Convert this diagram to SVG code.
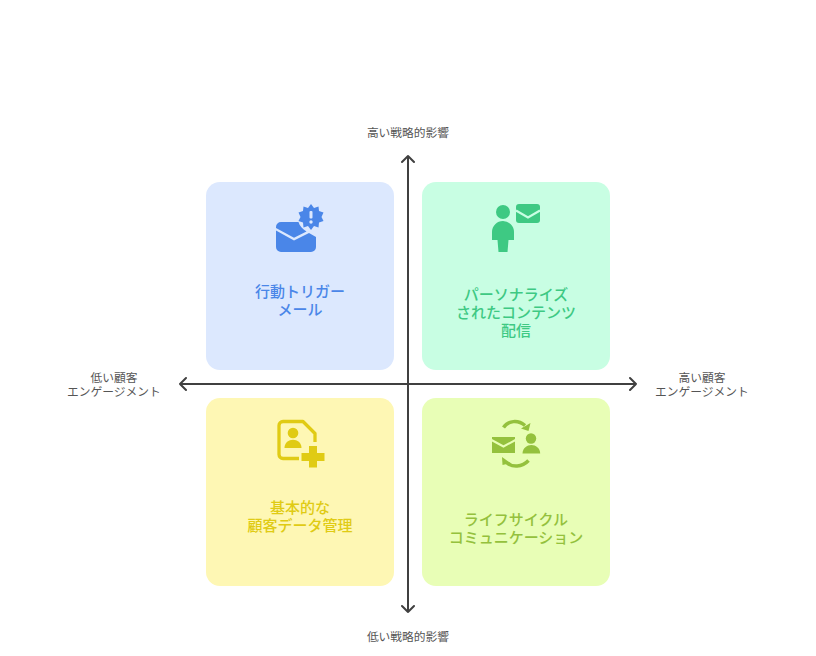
<svg xmlns="http://www.w3.org/2000/svg" width="816" height="656" viewBox="0 0 816 656">
<style>
text{font-family:"Noto Sans CJK JP","Noto Sans",sans-serif;text-anchor:middle}
.ax{font-size:11.75px;fill:#555}
.lb{font-size:15px;font-weight:500}
.axis{fill:none;stroke:#404040;stroke-width:2;stroke-linecap:round;stroke-linejoin:round}
</style>
<rect width="816" height="656" fill="#fff"/>
<g id="node-tl">
<rect x="206" y="182" width="188" height="188" rx="14" fill="#dce8fe"/>
<path d="M276 227A5 5 0 0 1 281 222H298.500C299.500 226 302.500 229 306.500 231.500L294 237.800L276 228Z" fill="#4a86e8"/>
<path d="M276 230.500L294 240.500L309 233L316 237V247A5 5 0 0 1 311 252H281A5 5 0 0 1 276 247Z" fill="#4a86e8"/>
<path d="M311 204L314 208L318.500 206.500L319 211L323.500 212.500L321.500 217L323.500 221L319 222.500L318.500 227.500L314 226L311 230L308 226L303.500 227.500L303 222.500L298.500 221L300.500 217L298.500 212.500L303 211L303.500 206.500L308 208Z" fill="#4a86e8"/>
<rect x="309.500" y="211" width="3" height="7.500" rx="1" fill="#dce8fe"/>
<circle cx="311" cy="222" r="1.700" fill="#dce8fe"/>
<text class="lb" fill="#4a86e8"><tspan x="300" y="297">行動トリガー</tspan><tspan x="300" y="315">メール</tspan></text>
</g>
<g id="node-tr">
<rect x="422" y="182" width="188" height="188" rx="14" fill="#c8fee3"/>
<circle cx="503" cy="212" r="7" fill="#3ec983"/>
<path d="M492 240V232A11 11 0 0 1 514 232V240H508.500L507.500 252H498.500L497.500 240Z" fill="#3ec983"/>
<rect x="516" y="204" width="24" height="19" rx="3" fill="#3ec983"/>
<path d="M516 210.500L528 217.500L540 210.500" fill="none" stroke="#c8fee3" stroke-width="2.200"/>
<text class="lb" fill="#3ec983"><tspan x="516" y="300">パーソナライズ</tspan><tspan x="516" y="318">されたコンテンツ</tspan><tspan x="516" y="336">配信</tspan></text>
</g>
<g id="node-bl">
<rect x="206" y="398" width="188" height="188" rx="14" fill="#fef7b4"/>
<path d="M299 458.500H283A4 4 0 0 1 279 454.500V425.500A4 4 0 0 1 283 421.500H303L315 433.500V442" fill="none" stroke="#e0cb14" stroke-width="3.300" stroke-linejoin="round"/>
<circle cx="293" cy="433" r="5.300" fill="#e0cb14"/>
<path d="M284.500 448C284.500 437 301.500 437 301.500 448Z" fill="#e0cb14"/>
<path d="M309 446H317V453H324.500V461H317V467.500H309V461H301.500V453H309Z" fill="#e0cb14"/>
<text class="lb" fill="#e0cb14"><tspan x="300" y="513">基本的な</tspan><tspan x="300" y="531">顧客データ管理</tspan></text>
</g>
<g id="node-br">
<rect x="422" y="398" width="188" height="188" rx="14" fill="#e8feb6"/>
<path d="M492 437H515V453H492Z" fill="#94c13d"/>
<path d="M491.500 440L503.500 446.500L515.500 440" fill="none" stroke="#e8feb6" stroke-width="2"/>
<circle cx="531" cy="438.500" r="5.200" fill="#94c13d"/>
<path d="M522.500 453.500C523 442 539.800 442 540.200 453.500Z" fill="#94c13d"/>
<path d="M503.500 427.500C508 420.500 518 419.500 525 425.500" fill="none" stroke="#94c13d" stroke-width="3.500"/>
<path d="M530.500 423L528.500 431L521 428.500Z" fill="#94c13d"/>
<path d="M528.500 460.500C522 467.500 512 467.500 506.500 462.500" fill="none" stroke="#94c13d" stroke-width="3.500"/>
<path d="M502 457L502.500 465L510.500 463Z" fill="#94c13d"/>
<text class="lb" fill="#94c13d"><tspan x="516" y="525">ライフサイクル</tspan><tspan x="516" y="543">コミュニケーション</tspan></text>
</g>
<g id="connectors">
<path class="axis" d="M408 612V156M402 162L408 156L414 162M402 606L408 612L414 606"/>
<path class="axis" d="M180 384H636M186 378L180 384L186 390M630 378L636 384L630 390"/>
</g>
<g id="axis-labels">
<text class="ax" x="408" y="137">高い戦略的影響</text>
<text class="ax" x="408" y="641">低い戦略的影響</text>
<text class="ax"><tspan x="114" y="382">低い顧客</tspan><tspan x="114" y="396">エンゲージメント</tspan></text>
<text class="ax"><tspan x="702" y="382">高い顧客</tspan><tspan x="702" y="396">エンゲージメント</tspan></text>
</g>
</svg>
